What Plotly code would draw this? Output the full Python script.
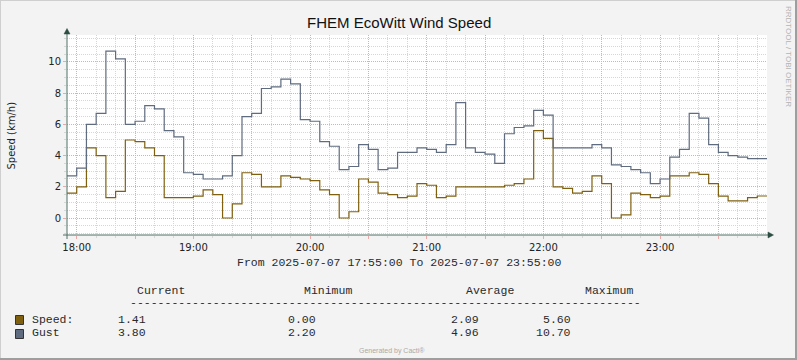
import plotly.graph_objects as go
import pandas as pd

# ---- data (5-minute steps, 17:55 .. 23:55) ----
speed = [1.6, 2.0, 4.5, 4.0, 1.3, 1.7, 5.0, 4.9, 4.5, 4.0,
         1.3, 1.3, 1.3, 1.4, 1.8, 1.5, 0.0, 0.9, 2.9, 2.8,
         2.0, 2.0, 2.7, 2.6, 2.5, 2.4, 1.8, 1.5, 0.0, 0.4,
         2.5, 2.3, 1.6, 1.5, 1.3, 1.4, 2.2, 2.1, 1.3, 1.4,
         2.0, 2.0, 2.0, 2.0, 2.0, 2.1, 2.2, 2.5, 5.6, 5.1,
         2.0, 1.9, 1.6, 1.7, 2.7, 2.2, 0.0, 0.2, 1.6, 1.5,
         1.3, 1.4, 2.7, 2.7, 2.9, 2.8, 2.2, 1.4, 1.1, 1.1,
         1.3, 1.41]
gust = [2.7, 3.2, 6.0, 6.7, 10.7, 10.2, 6.0, 6.2, 7.2, 7.0,
        5.6, 5.2, 2.9, 2.8, 2.5, 2.5, 2.7, 4.0, 6.5, 6.7,
        8.3, 8.4, 8.9, 8.6, 6.3, 6.2, 4.9, 4.6, 3.1, 3.3,
        4.7, 4.4, 3.1, 3.2, 4.2, 4.2, 4.5, 4.4, 4.2, 4.7,
        7.4, 4.5, 4.2, 4.1, 3.5, 5.4, 5.8, 5.9, 6.9, 6.6,
        4.5, 4.5, 4.5, 4.5, 4.7, 4.5, 3.4, 3.3, 3.1, 2.9,
        2.2, 2.5, 3.9, 4.4, 6.7, 6.4, 4.7, 4.2, 4.0, 3.9,
        3.8, 3.8]
series_names = ["Speed:", "Gust"]
series_colors = ["#7F600F", "#5F6B7F"]
stats_current = ["1.41", "3.80"]
stats_minimum = ["0.00", "2.20"]
stats_average = ["2.09", "4.96"]
stats_maximum = ["5.60", "10.70"]
y_ticks = [0, 2, 4, 6, 8, 10]
x_hours = ["18:00", "19:00", "20:00", "21:00", "22:00", "23:00"]

start = pd.Timestamp("2025-07-07 17:55:00")
end = pd.Timestamp("2025-07-07 23:55:00")
times = list(pd.date_range(start, periods=len(speed) + 1, freq="5min"))

# ---- geometry helpers (pixel -> paper) ----
L, R, T, B = 67, 767, 35, 235
W, H = 797, 360
def px(x):
    return (x - L) / (R - L)
def py(y):
    return (B - y) / (B - T)

fig = go.Figure()
for name, vals, col in [("Speed", speed, series_colors[0]), ("Gust", gust, series_colors[1])]:
    fig.add_trace(go.Scatter(
        x=times, y=vals + [vals[-1]], mode="lines", line_shape="hv",
        line=dict(color=col, width=1.2), name=name, showlegend=False,
        hoverinfo="skip"))

# x major ticks every 30 min, labels on the hour
tickvals = list(pd.date_range("2025-07-07 18:00", "2025-07-07 23:30", freq="30min"))
ticktext = []
hi = 0
for t in tickvals:
    if t.minute == 0:
        ticktext.append(x_hours[hi]); hi += 1
    else:
        ticktext.append("")

red = "#EBA8A8"
gray = "#D6D6D6"
fig.update_xaxes(
    type="date", range=[start, end], tickmode="array", tickvals=tickvals, ticktext=ticktext,
    showgrid=True, gridcolor=red, griddash="1px,1px", gridwidth=1,
    showline=False, zeroline=False, ticks="outside", ticklen=3, tickcolor=red,
    tickfont=dict(family="DejaVu Sans", size=10, color="#222"),
    minor=dict(tickmode="linear", tick0="2025-07-07 18:00", dtick=600000,
               showgrid=True, gridcolor=gray, griddash="1px,1px", ticks="outside",
               ticklen=2, tickcolor=gray),
    fixedrange=True)
fig.update_yaxes(
    range=[-1.09, 11.73], tickmode="array", tickvals=y_ticks,
    showgrid=True, gridcolor=red, griddash="1px,1px", gridwidth=1,
    showline=False, zeroline=False, ticks="outside", ticklen=3, tickcolor=red,
    tickfont=dict(family="DejaVu Sans", size=10, color="#222"),
    minor=dict(tickmode="linear", tick0=0, dtick=0.5, showgrid=True,
               gridcolor=gray, griddash="1px,1px", ticks="outside", ticklen=2,
               tickcolor=gray),
    fixedrange=True)

axis_col = "#4E6E62"
shapes = []
# axis lines
shapes.append(dict(type="line", xref="paper", yref="paper", x0=px(63), x1=px(769),
                   y0=py(235), y1=py(235), line=dict(color=axis_col, width=1), layer="above"))
shapes.append(dict(type="line", xref="paper", yref="paper", x0=px(67), x1=px(67),
                   y0=py(239), y1=py(33), line=dict(color=axis_col, width=1), layer="above"))
# arrows
shapes.append(dict(type="path", xref="paper", yref="paper",
                   path=f"M {px(64)} {py(34)} L {px(67)} {py(28.5)} L {px(70)} {py(34)} Z",
                   fillcolor="#2C4D43", line=dict(color="#2C4D43", width=0.5), layer="above"))
shapes.append(dict(type="path", xref="paper", yref="paper",
                   path=f"M {px(768)} {py(232)} L {px(773.5)} {py(235)} L {px(768)} {py(238)} Z",
                   fillcolor="#2C4D43", line=dict(color="#2C4D43", width=0.5), layer="above"))
# frame / shading
shapes.append(dict(type="line", xref="paper", yref="paper", x0=px(0), x1=px(797),
                   y0=py(0.5), y1=py(0.5), line=dict(color="#CFCFCF", width=1)))
shapes.append(dict(type="line", xref="paper", yref="paper", x0=px(0.5), x1=px(0.5),
                   y0=py(0), y1=py(360), line=dict(color="#CFCFCF", width=1)))
shapes.append(dict(type="line", xref="paper", yref="paper", x0=px(0), x1=px(797),
                   y0=py(359), y1=py(359), line=dict(color="#9E9E9E", width=2)))
shapes.append(dict(type="line", xref="paper", yref="paper", x0=px(796), x1=px(796),
                   y0=py(0), y1=py(360), line=dict(color="#9E9E9E", width=2)))
# legend squares
sq_y = [(315.5, 324.5), (329.5, 338.5)]
for (y0, y1), col in zip(sq_y, series_colors):
    shapes.append(dict(type="rect", xref="paper", yref="paper", x0=px(15.5), x1=px(23.5),
                       y0=py(y1), y1=py(y0), fillcolor=col, line=dict(color="#333", width=1)))

mono = dict(family="Liberation Mono", size=11.5, color="#2A2A2A")
ann = []
def text(x, y, s, font, xanchor="left", angle=0):
    ann.append(dict(x=px(x), y=py(y), xref="paper", yref="paper", text=s, showarrow=False,
                    xanchor=xanchor, yanchor="middle", font=font, textangle=angle))

text(399, 22.5, "FHEM EcoWitt Wind Speed",
     dict(family="Liberation Sans", size=15, color="#111"), xanchor="center")
text(11, 135.5, "Speed (km/h)", dict(family="DejaVu Sans", size=10, color="#222"),
     xanchor="center", angle=-90)
text(788.5, 56.5, "RRDTOOL / TOBI OETIKER",
     dict(family="Liberation Sans", size=8, color="#B4B4B4"), xanchor="center", angle=90)
text(398.5, 262.5, "From 2025-07-07 17:55:00 To 2025-07-07 23:55:00", mono, xanchor="center")
text(134.5, 290.5, "Current", mono)
text(302, 290.5, "Minimum", mono)
text(463.5, 290.5, "Average", mono)
text(582.5, 290.5, "Maximum", mono)
text(127.5, 302.5, "-" * 74, mono)
row_y = [319, 332.5]
for i in range(2):
    text(30, row_y[i], series_names[i], mono)
    text(116, row_y[i], stats_current[i], mono)
    text(286, row_y[i], stats_minimum[i], mono)
    text(448.7, row_y[i], stats_average[i], mono)
    text(573, row_y[i], stats_maximum[i], mono, xanchor="right")
text(391.7, 351, "Generated by Cacti®", dict(family="Liberation Sans", size=7, color="#AAAAAA"),
     xanchor="center")

fig.update_layout(
    width=W, height=H, autosize=False,
    margin=dict(l=L, r=W - R, t=T, b=H - B, pad=0),
    paper_bgcolor="#F3F3F3", plot_bgcolor="#FFFFFF",
    shapes=shapes, annotations=ann, showlegend=False)

fig.write_html("out.html", config={"displayModeBar": False, "staticPlot": True},
               post_script="document.body.style.margin='0';document.body.style.padding='0';")
